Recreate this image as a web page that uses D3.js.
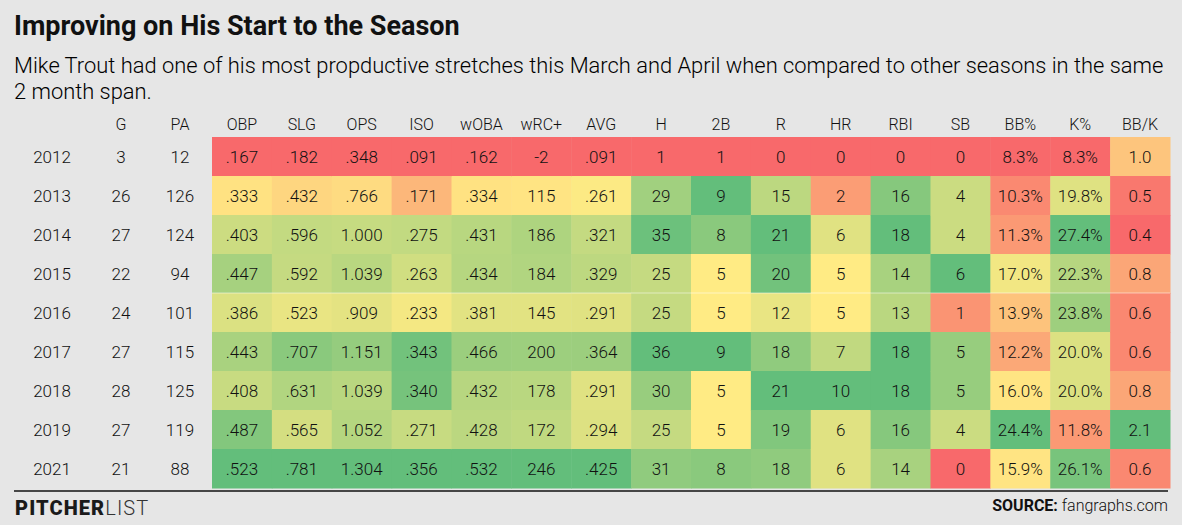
<!DOCTYPE html>
<html>
<head>
<meta charset="utf-8">
<script src="https://cdn.jsdelivr.net/npm/d3@7"></script>
<style>
  body { margin: 0; background: #e6e6e6; }
  svg { display: block; font-family: Roboto, "Noto Sans", sans-serif; }
</style>
</head>
<body>
<svg id="chart" width="1182" height="525"></svg>
<script>
const years = ["2012", "2013", "2014", "2015", "2016", "2017", "2018", "2019", "2021"]
const games = [3, 26, 27, 22, 24, 27, 28, 27, 21]
const plateApps = [12, 126, 124, 94, 101, 115, 125, 119, 88]

const statNames = ["OBP", "SLG", "OPS", "ISO", "wOBA", "wRC+", "AVG", "H", "2B", "R", "HR", "RBI", "SB", "BB%", "K%", "BB/K"]

const obp = [.167, .333, .403, .447, .386, .443, .408, .487, .523]
const slg = [.182, .432, .596, .592, .523, .707, .631, .565, .781]
const ops = [.348, .766, 1.000, 1.039, .909, 1.151, 1.039, 1.052, 1.304]
const iso = [.091, .171, .275, .263, .233, .343, .340, .271, .356]
const woba = [.162, .334, .431, .434, .381, .466, .432, .428, .532]
const wrcPlus = [-2, 115, 186, 184, 145, 200, 178, 172, 246]
const avg = [.091, .261, .321, .329, .291, .364, .291, .294, .425]
const hits = [1, 29, 35, 25, 25, 36, 30, 25, 31]
const doubles = [1, 9, 8, 5, 5, 9, 5, 5, 8]
const runs = [0, 15, 21, 20, 12, 18, 21, 19, 18]
const homers = [0, 2, 6, 5, 5, 7, 10, 6, 6]
const rbi = [0, 16, 18, 14, 13, 18, 18, 16, 14]
const steals = [0, 4, 4, 6, 1, 5, 5, 4, 0]
const bbPct = [8.3, 10.3, 11.3, 17.0, 13.9, 12.2, 16.0, 24.4, 15.9]
const kPct = [8.3, 19.8, 27.4, 22.3, 23.8, 20.0, 20.0, 11.8, 26.1]
const bbk = [1.0, 0.5, 0.4, 0.8, 0.6, 0.6, 0.8, 2.1, 0.6]

const statValues = [obp, slg, ops, iso, woba, wrcPlus, avg, hits, doubles, runs, homers, rbi, steals, bbPct, kPct, bbk]

// how each column is printed
const rate = v => d3.format(".3f")(v).replace(/^0\./, ".")
const whole = v => String(v)
const pct = v => d3.format(".1f")(v) + "%"
const oneDec = v => d3.format(".1f")(v)
const statFormats = [rate, rate, rate, rate, rate, whole, rate, whole, whole, whole, whole, whole, whole, pct, pct, oneDec]

const svg = d3.select("#chart")

const margin = { left: 14, right: 12 }
const tableTop = 137
const rowH = 39
const cellX0 = 212
const cellX1 = 1170

svg.append("text")
  .attr("x", margin.left).attr("y", 35)
  .attr("font-size", 27).attr("font-weight", 700).attr("fill", "#111")
  .text("Improving on His Start to the Season")

const subtitle = ["Mike Trout had one of his most propductive stretches this March and April when compared to other seasons in the same",
  "2 month span."]
svg.selectAll("text.sub").data(subtitle).join("text")
  .attr("class", "sub")
  .attr("x", margin.left).attr("y", (d, i) => 73 + i * 26)
  .attr("font-size", 21.9).attr("font-weight", 300).attr("fill", "#000")
  .text(d => d)

const y = d3.scaleBand().domain(years).range([tableTop, tableTop + rowH * years.length])
const x = d3.scaleBand().domain(statNames).range([cellX0, cellX1])

// Excel style 3 colour scale, midpoint at half of the range
const red = "#f8696b", yellow = "#ffeb84", green = "#63be7b"
const colorScales = statValues.map(vals => {
  const [lo, hi] = d3.extent(vals)
  return d3.scaleLinear().domain([lo, (lo + hi) / 2, hi]).range([red, yellow, green]).interpolate(d3.interpolateRgb)
})

const cells = []
statNames.forEach((name, c) => {
  years.forEach((yr, r) => {
    cells.push({ name, yr, value: statValues[c][r], color: colorScales[c](statValues[c][r]), label: statFormats[c](statValues[c][r]) })
  })
})

svg.append("g").selectAll("rect").data(cells).join("rect")
  .attr("x", d => x(d.name)).attr("y", d => y(d.yr))
  .attr("width", x.bandwidth() + 0.5).attr("height", y.bandwidth() + 0.5)
  .attr("fill", d => d.color)

// faint break line in the source picture
svg.append("line")
  .attr("x1", cellX0).attr("x2", cellX1)
  .attr("y1", y("2016")).attr("y2", y("2016"))
  .attr("stroke", "#fff").attr("stroke-opacity", 0.5).attr("stroke-width", 1)

svg.append("g").selectAll("text").data(cells).join("text")
  .attr("x", d => x(d.name) + x.bandwidth() / 2)
  .attr("y", d => y(d.yr) + y.bandwidth() / 2)
  .attr("dy", "0.36em").attr("text-anchor", "middle")
  .attr("font-size", 17).attr("font-weight", 300).attr("fill", "#111")
  .text(d => d.label)

// left hand columns
const leftCols = [
  { head: "", cx: 52, vals: years },
  { head: "G", cx: 121, vals: games },
  { head: "PA", cx: 180, vals: plateApps }
]
leftCols.forEach(col => {
  svg.append("g").selectAll("text").data(col.vals).join("text")
    .attr("x", col.cx)
    .attr("y", (d, i) => y(years[i]) + y.bandwidth() / 2)
    .attr("dy", "0.36em").attr("text-anchor", "middle")
    .attr("font-size", 17).attr("font-weight", 300).attr("fill", "#111")
    .text(d => d)
})

const heads = leftCols.filter(c => c.head).map(c => ({ head: c.head, cx: c.cx }))
  .concat(statNames.map(n => ({ head: n, cx: x(n) + x.bandwidth() / 2 })))
svg.append("g").selectAll("text").data(heads).join("text")
  .attr("x", d => d.cx).attr("y", 124)
  .attr("dy", "0.36em").attr("text-anchor", "middle")
  .attr("font-size", 16).attr("font-weight", 300).attr("fill", "#111")
  .text(d => d.head)

svg.append("line")
  .attr("x1", margin.left).attr("x2", 1168)
  .attr("y1", 491).attr("y2", 491)
  .attr("stroke", "#111").attr("stroke-width", 1.5)

const logo = svg.append("text")
  .attr("x", margin.left + 1).attr("y", 515)
  .attr("font-size", 20).attr("letter-spacing", 1.1).attr("fill", "#1a1a1a")
logo.append("tspan").attr("font-weight", 900).text("PITCHER")
logo.append("tspan").attr("font-weight", 300).attr("fill", "#333").text("LIST")

const src = svg.append("text")
  .attr("x", 1168).attr("y", 511).attr("text-anchor", "end")
  .attr("font-size", 16).attr("fill", "#111")
src.append("tspan").attr("font-weight", 700).text("SOURCE:")
src.append("tspan").attr("font-weight", 300).text(" fangraphs.com")
</script>
</body>
</html>
